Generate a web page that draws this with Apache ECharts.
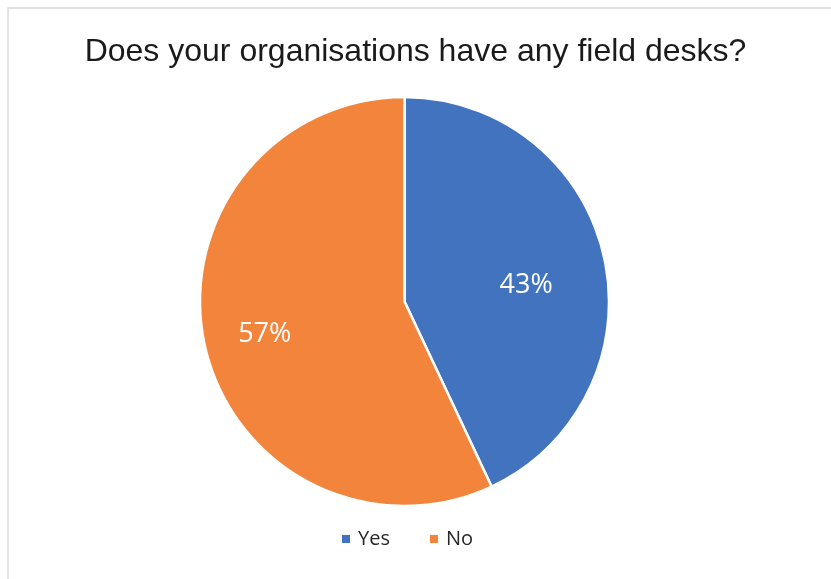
<!DOCTYPE html>
<html>
<head>
<meta charset="utf-8">
<style>html,body{margin:0;padding:0;background:#fff;}#c{width:831px;height:579px;}</style>
<script src="https://cdn.jsdelivr.net/npm/echarts@6/dist/echarts.min.js"></script>
</head>
<body>
<div id="c"></div>
<script>
const titleText = 'Does your organisations have any field desks?';
const categories = ['Yes', 'No'];
const values = [43, 57];
const colors = ['#4273BE', '#F3843C'];
const labelOffsets = [[19, 7], [-37, 10]];

const chart = echarts.init(document.getElementById('c'), null, {renderer: 'canvas'});
chart.setOption({
  animation: false,
  backgroundColor: '#fff',
  title: {
    text: titleText,
    left: 'center',
    top: 36,
    padding: 0,
    textStyle: {fontFamily: 'Liberation Sans', fontSize: 32, fontWeight: 'normal', color: '#1a1a1a'}
  },
  graphic: [{
    type: 'rect', silent: true,
    shape: {x: 8, y: 8, width: 900, height: 700},
    style: {fill: 'none', stroke: '#d9d9d9', lineWidth: 1.5}
  }],
  legend: {
    data: categories,
    left: 340,
    top: 529,
    padding: 0,
    icon: 'rect',
    itemWidth: 10,
    itemHeight: 10,
    itemGap: 38,
    textStyle: {fontFamily: 'Open Sans', fontSize: 20, color: '#262626', padding: [0, 0, 0, 2]}
  },
  series: [{
    type: 'pie',
    center: [404.5, 301.5],
    radius: [0, 204.5],
    startAngle: 90,
    clockwise: true,
    avoidLabelOverlap: false,
    label: {
      show: true,
      position: 'inside',
      formatter: '{d}%',
      fontFamily: 'Open Sans',
      fontSize: 27,
      color: '#fff'
    },
    labelLine: {show: false},
    itemStyle: {borderColor: '#fff', borderWidth: 2.5},
    emphasis: {disabled: true},
    data: categories.map((c, i) => ({
      name: c,
      value: values[i],
      itemStyle: {color: colors[i]},
      label: {offset: labelOffsets[i]}
    }))
  }]
});
</script>
</body>
</html>
